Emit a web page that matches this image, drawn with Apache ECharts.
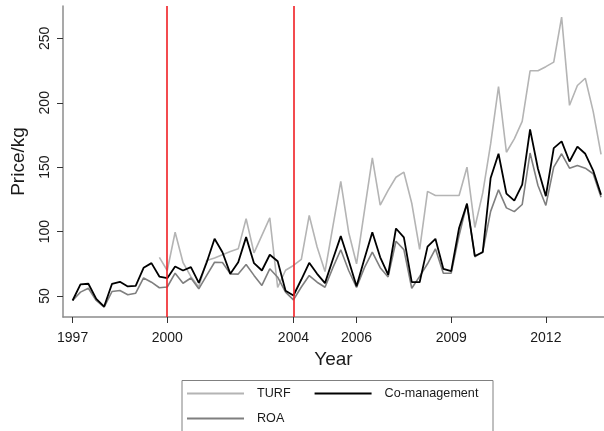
<!DOCTYPE html>
<html>
<head>
<meta charset="utf-8">
<script src="https://cdn.jsdelivr.net/npm/echarts@6/dist/echarts.min.js"></script>
<style>
  html, body { margin: 0; padding: 0; background: #ffffff; }
  #chart { width: 604px; height: 431px; }
</style>
</head>
<body>
<div id="chart"></div>
<script>
// Quarterly price per kg, first quarter of 1997 onwards
const firstYear = 1997;

const turf = [
  null, null, null, null, null, null, null, null, null, null, null,
  80, 69.8, 99.5, 76, 65, 57, 77.6, 79.5, 82, 84.5, 86.6, 110, 83.5,
  97, 110.7, 56.6, 70, 73.7, 78.5, 112.5, 88, 69, 104, 139, 99.5,
  75, 116, 157.3, 120.5, 132, 142.2, 146.1, 122, 86.2, 131.2, 128, 128,
  128, 128, 150, 103.2, 130, 168, 212.6, 161.6, 172, 185.5, 224.8, 224.8,
  228, 231.5, 266.5, 198, 213.4, 219, 193.3, 160
];

const roa = [
  46.5, 53, 56, 46.5, 41.3, 53.5, 54.3, 51, 52.2, 64, 60.7, 56.4,
  57, 67.7, 59.9, 64, 55.6, 66, 76.2, 76, 67.2, 67, 74.5, 66,
  58.2, 71.1, 64.6, 53, 47, 57, 65.9, 60.7, 56.8, 72, 85.9, 69.8,
  56.6, 72, 84, 72, 64.8, 92.5, 86, 56, 65.2, 75, 86.6, 67.7,
  67.7, 97, 122, 80.4, 84.5, 115.7, 132.4, 118.4, 115.5, 121, 161, 135.8,
  120.3, 150, 160.4, 149.2, 151.3, 149.2, 144.9, 126.7
];

const coManagement = [
  46.5, 59, 59.5, 47.8, 41.8, 59.5, 61, 57.4, 57.9, 71.9, 75.5, 65.1,
  63.8, 72.9, 69.8, 72.4, 60.2, 76, 94.4, 84, 67.2, 76.2, 95.7, 75.5,
  69.8, 82, 77, 54, 50.4, 62.8, 75.8, 67.2, 60, 78.5, 96.5, 77.6,
  57.5, 79, 99.5, 80, 66.5, 102.4, 95.5, 60.7, 60.7, 88.3, 94.4, 71.1,
  69.3, 102.8, 121.5, 81, 84, 141.6, 160.4, 129.5, 124, 136.5, 179.3, 148.8,
  127.5, 164.8, 170, 154.4, 166, 160.4, 147.4, 128.6
];

const yearTicks = [1997, 2000, 2004, 2006, 2009, 2012];
const priceTicks = [50, 100, 150, 200, 250];
const policyYears = [2000, 2004];

const FONT = "'Liberation Sans', Arial, sans-serif";
const TEXT = '#1a1a1a';

function toPoints(values) {
  const pts = [];
  values.forEach((v, i) => {
    if (v !== null) pts.push([firstYear + i / 4, v]);
  });
  return pts;
}

const chart = echarts.init(document.getElementById('chart'), null, { renderer: 'canvas' });

const legendCommon = {
  left: 182,
  icon: 'rect',
  itemWidth: 57,
  itemHeight: 2,
  itemGap: 24,
  selectedMode: false,
  textStyle: { fontFamily: FONT, fontSize: 12.6, color: TEXT, padding: [0, 0, 0, 8] }
};

chart.setOption({
  animation: false,
  backgroundColor: '#ffffff',
  grid: { left: 63, right: 0, top: 6, bottom: 114 },
  xAxis: {
    type: 'value',
    min: 1996.696,
    max: 2013.843,
    name: 'Year',
    nameLocation: 'middle',
    nameGap: 32,
    nameTextStyle: { fontFamily: FONT, fontSize: 19, color: TEXT },
    axisLine: { show: true, lineStyle: { color: '#8c8c8c', width: 1.5 } },
    axisTick: { show: true, customValues: yearTicks, length: 6, lineStyle: { color: '#333333', width: 1 } },
    axisLabel: { customValues: yearTicks, margin: 14, fontFamily: FONT, fontSize: 14, color: TEXT, formatter: v => String(v) },
    splitLine: { show: false }
  },
  yAxis: {
    type: 'value',
    min: 33.7,
    max: 275.1,
    name: 'Price/kg',
    nameLocation: 'middle',
    nameRotate: 90,
    nameGap: 35,
    nameTextStyle: { fontFamily: FONT, fontSize: 19, color: TEXT },
    axisLine: { show: true, lineStyle: { color: '#8c8c8c', width: 1.5 } },
    axisTick: { show: true, customValues: priceTicks, length: 6, lineStyle: { color: '#333333', width: 1 } },
    axisLabel: { customValues: priceTicks, rotate: 90, margin: 11, fontFamily: FONT, fontSize: 14, color: TEXT },
    splitLine: { show: false }
  },
  legend: [
    Object.assign({ top: 382, data: ['TURF', 'Co-management'] }, legendCommon),
    Object.assign({ top: 407, data: ['ROA'] }, legendCommon)
  ],
  graphic: [{
    type: 'rect',
    shape: { x: 182, y: 380.5, width: 311, height: 60 },
    style: { fill: 'none', stroke: '#808080', lineWidth: 1 },
    silent: true
  }],
  series: [
    {
      name: 'TURF',
      type: 'line',
      data: toPoints(turf),
      symbol: 'none',
      z: 2,
      color: '#b4b4b4',
      lineStyle: { color: '#b4b4b4', width: 1.6 }
    },
    {
      name: 'ROA',
      type: 'line',
      data: toPoints(roa),
      symbol: 'none',
      z: 3,
      color: '#7f7f7f',
      lineStyle: { color: '#7f7f7f', width: 1.6 }
    },
    {
      name: 'Co-management',
      type: 'line',
      data: toPoints(coManagement),
      symbol: 'none',
      z: 4,
      color: '#000000',
      lineStyle: { color: '#000000', width: 1.8 },
      markLine: {
        silent: true,
        symbol: 'none',
        label: { show: false },
        lineStyle: { color: '#f01e23', width: 1.6, type: 'solid' },
        data: policyYears.map(y => ({ xAxis: y }))
      }
    }
  ]
});
</script>
</body>
</html>
